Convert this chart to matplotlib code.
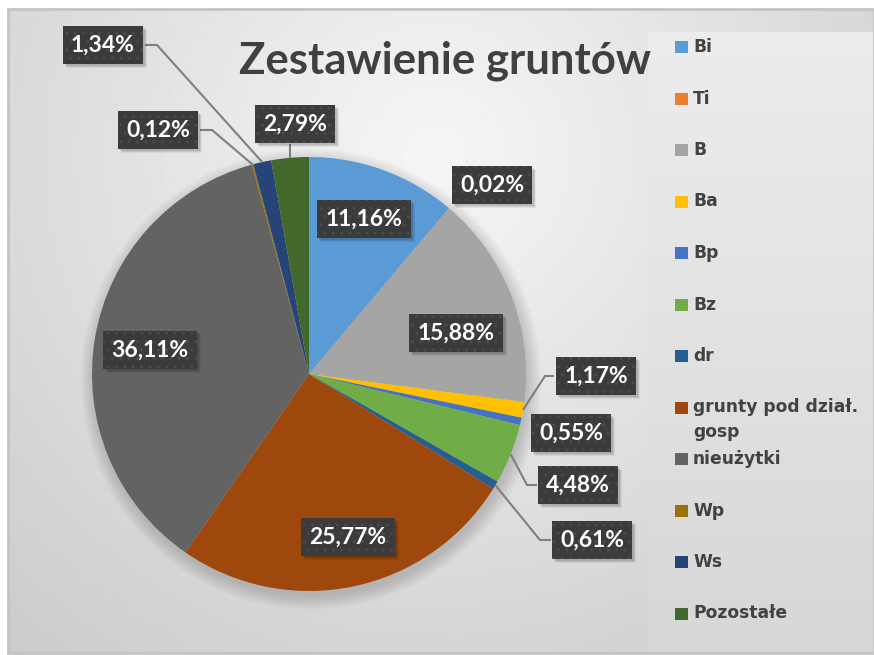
import numpy as np
import matplotlib.pyplot as plt
from matplotlib.patches import Rectangle, Circle

W, H = 874, 655

categories = ['Bi', 'Ti', 'B', 'Ba', 'Bp', 'Bz', 'dr', 'grunty pod dział.\ngosp',
              'nieużytki', 'Wp', 'Ws', 'Pozostałe']
shares = [11.16, 0.02, 15.88, 1.17, 0.55, 4.48, 0.61, 25.77, 36.11, 0.12, 1.34, 2.79]
colors = ['#5B9BD5', '#ED7D31', '#A5A5A5', '#FFC000', '#4472C4', '#70AD47',
          '#255E91', '#9E480E', '#636363', '#997300', '#264478', '#43682B']

# label box centres (pixels from top-left) and leader elbows (None = no leader)
label_pos = [(364, 219), (492, 185), (456, 333), (596, 376), (571, 433), (578, 485),
             (592, 540), (348, 537), (150, 350), (158, 130), (103, 45), (295, 124)]
elbows = [None, None, None, (545, 376), None, (527, 485),
          (540, 540), None, None, (212, 130), (157, 45), (290, 144)]
box_edge = [None, None, None, 554, None, 537, 551, None, None, 200, 145, None]

PIE_C = (309, 374)
PIE_R = 217


def px(x, y):
    return x, H - y


fig = plt.figure(figsize=(W / 100, H / 100), dpi=100)
fig.patch.set_facecolor('white')
ax = fig.add_axes([0, 0, 1, 1])

# background radial gradient
yy, xx = np.mgrid[0:H, 0:W]
d = np.hypot(xx - 430, yy - 150) / 660.0
bg = 0.965 - 0.17 * np.clip(d, 0, 1.1)
ax.imshow(bg, extent=(8, W, 2, H - 9), origin='upper', cmap='gray',
          vmin=0, vmax=1, zorder=0, interpolation='bilinear')
# legend panel
ly = np.linspace(0.925, 0.84, 200)[:, None] * np.ones((1, 10))
ax.imshow(ly, extent=(648, W, 2, H - 32), origin='upper', cmap='gray',
          vmin=0, vmax=1, zorder=0.5, aspect='auto')
ax.add_patch(Rectangle((8, 2), W - 8, H - 11, fill=False, ec='#c4c4c4', lw=2, zorder=0.6))

# soft pie shadow
cx, cy = px(*PIE_C)
for i in range(10):
    ax.add_patch(Circle((cx + 2, cy - 5), PIE_R + 1.5 * i, color='black',
                        alpha=0.016, lw=0, zorder=1))

wedges, _ = ax.pie(shares, colors=colors, startangle=90, counterclock=False,
                   center=(cx, cy), radius=PIE_R, wedgeprops=dict(linewidth=0, zorder=2))
ax.set_xlim(0, W)
ax.set_ylim(0, H)
ax.set_aspect('auto')
ax.set_axis_off()

# leader lines from slice mid-angle on the rim
cum = np.cumsum([0] + shares[:-1])
for i, v in enumerate(shares):
    if elbows[i] is None:
        continue
    frac = (cum[i] + v / 2) / 100.0
    ang = np.deg2rad(90 - 360 * frac)
    sx, sy = cx + PIE_R * np.cos(ang), cy + PIE_R * np.sin(ang)
    ex, ey = px(*elbows[i])
    xs = [sx, ex]
    ys = [sy, ey]
    if box_edge[i] is not None:
        xs.append(box_edge[i])
        ys.append(ey)
    ax.plot(xs, ys, color='#7f7f7f', lw=1.5, zorder=3, solid_capstyle='butt')

# data labels
labels = []
for i, v in enumerate(shares):
    txt = f'{v:.2f}%'.replace('.', ',')
    t = ax.text(*px(*label_pos[i]), txt, ha='center', va='center', fontsize=16.5,
                fontweight='bold', family='Lato', color='white', zorder=5,
                bbox=dict(boxstyle='square,pad=0.36', fc='#3b3b3b', ec='#4b4b4b',
                          lw=0, hatch='..'))
    labels.append(t)

# soft drop shadow behind each label box
fig.canvas.draw()
inv = ax.transData.inverted()
for t in labels:
    bb = t.get_bbox_patch().get_window_extent().transformed(inv)
    for k, a in ((4, 0.06), (3, 0.08), (2, 0.1)):
        ax.add_patch(Rectangle((bb.x0 + k, bb.y0 - k), bb.width, bb.height,
                               fc='black', alpha=a, lw=0, zorder=4))

# title
ax.text(*px(445, 61), 'Zestawienie gruntów', ha='center', va='center', fontsize=31.5,
        fontweight='bold', family='Lato', color='#404040', zorder=6)

# legend
for i, name in enumerate(categories):
    y = 47 + i * 51.5
    ax.add_patch(Rectangle(px(675, y + 6), 13, 12, color=colors[i], lw=0, zorder=6))
    ax.text(*px(693, y - 9), name, ha='left', va='top', fontsize=12.3,
            fontweight='bold', family='DejaVu Sans', color='#424242',
            linespacing=1.45, zorder=6)

plt.savefig('out.png', dpi=100)
